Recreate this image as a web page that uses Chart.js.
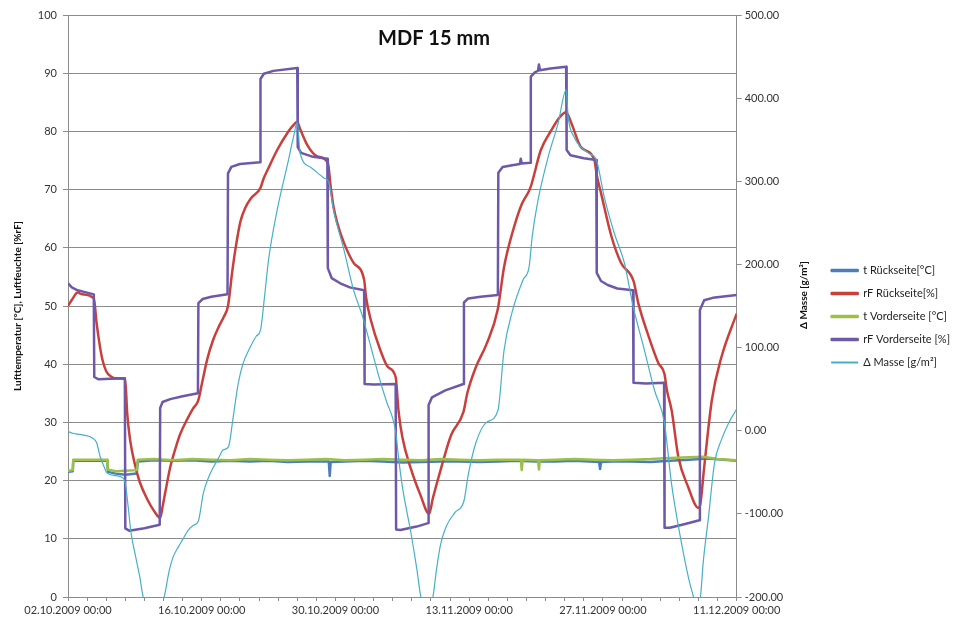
<!DOCTYPE html>
<html lang="de">
<head>
<meta charset="utf-8">
<title>MDF 15 mm</title>
<script src="https://cdn.jsdelivr.net/npm/chart.js@4.4.1/dist/chart.umd.min.js"></script>
<style>
  body { margin: 0; background: #fff; }
  #chart { display: block; }
</style>
</head>
<body>
<canvas id="chart" width="960" height="626"></canvas>
<script>
const titel = 'MDF 15 mm';
const startTag = [2009, 9, 2];
const serienNamen = ['t Rückseite[°C]', 'rF Rückseite[%]', 't Vorderseite [°C]', 'rF Vorderseite [%]', '\u0394 Masse [g/m\u00b2]'];

const tRueckseite = [[0,21.5],[0.5,21.6],[0.55,23.4],[4.1,23.4],[4.2,21.5],[5,21.2],[6,21.0],[7.2,21.2],[7.3,23.3],[9,23.5],[11,23.4],[13,23.5],[15,23.3],[17,23.4],[19,23.3],[21,23.4],[23,23.2],[25,23.3],[27.3,23.3],[27.4,20.8],[27.5,23.2],[29,23.3],[31,23.4],[33,23.3],[35,23.1],[37,23.2],[39,23.3],[41,23.3],[43,23.2],[45,23.3],[47,23.4],[49,23.3],[51,23.3],[53,23.4],[55.6,23.2],[55.7,22.0],[55.8,23.2],[57,23.3],[59,23.3],[61,23.2],[63,23.4],[65,23.6],[67,23.8],[70,23.4]];

const rfRueckseite = [[0,50.0],[0.5,51.3],[1.0,52.3],[1.5,52.0],[2.7,51.3],[3.0,47.0],[3.3,43.5],[3.6,40.8],[4.0,38.8],[4.5,37.9],[5.0,37.6],[5.98,37.5],[6.2,31.5],[6.5,27.0],[7.0,22.8],[7.5,19.8],[8.3,16.8],[9.0,14.8],[9.65,13.6],[9.9,15.5],[10.3,19.0],[10.7,22.3],[11.3,25.8],[11.75,28.0],[12.5,30.6],[13.1,32.4],[13.64,33.8],[14.0,36.5],[14.6,41.0],[15.2,44.2],[15.8,46.5],[16.3,48.1],[16.75,50.0],[17.2,56.0],[17.6,60.5],[18.05,64.5],[18.6,67.0],[19.1,68.4],[20.15,70.3],[20.5,72.0],[20.9,73.4],[21.9,76.8],[23.0,79.8],[23.5,80.9],[24.0,81.6],[24.3,80.4],[25.1,77.5],[26.1,75.7],[27.2,74.6],[27.5,70.5],[27.8,67.0],[28.2,64.2],[28.9,60.8],[29.9,57.4],[31.0,54.5],[31.2,51.5],[31.7,47.6],[32.7,42.4],[33.5,39.5],[34.3,37.8],[34.6,32.0],[35.0,27.5],[35.9,22.0],[36.9,17.5],[37.8,14.3],[38.2,17.0],[39.0,21.8],[40.1,27.8],[41.4,31.8],[41.8,35.0],[42.7,39.5],[43.8,43.4],[45.0,49.5],[45.65,56.7],[46.7,63.6],[47.5,67.5],[48.4,70.3],[49.5,76.8],[50.6,80.2],[51.5,82.5],[52.15,83.3],[52.7,81.4],[53.7,77.3],[55.1,75.1],[55.35,72.5],[55.8,69.4],[56.9,61.9],[57.9,57.4],[59.2,54.3],[59.7,50.5],[60.8,44.7],[61.8,40.2],[62.43,38.4],[62.7,35.5],[63.2,32.0],[63.9,24.0],[64.9,19.0],[66.0,15.3],[66.2,16.0],[66.6,22.3],[67.4,33.8],[68.4,41.2],[70,48.7]];

const tVorderseite = [[0,21.7],[0.5,21.8],[0.55,23.6],[4.1,23.6],[4.15,21.9],[5,21.6],[6,21.7],[7.2,21.8],[7.3,23.6],[9,23.7],[11,23.5],[13,23.7],[15,23.6],[17,23.5],[19,23.7],[21,23.6],[23,23.5],[25,23.6],[27,23.7],[29,23.5],[31,23.6],[33,23.7],[35,23.6],[37,23.5],[39,23.7],[41,23.6],[43,23.5],[45,23.6],[47.4,23.6],[47.5,21.8],[47.6,23.6],[49.2,23.5],[49.3,21.9],[49.4,23.5],[51,23.6],[53,23.7],[55,23.6],[57,23.5],[59,23.6],[61,23.7],[63,23.9],[65,24.0],[66.5,24.1],[68,23.7],[70,23.5]];

const rfVorderseite = [[0,53.9],[0.4,53.2],[1.0,52.7],[2.0,52.3],[2.7,52.0],[2.75,37.8],[3.2,37.4],[4.5,37.5],[5.95,37.6],[6.0,11.8],[6.4,11.4],[8.0,11.8],[9.6,12.4],[9.65,32.5],[9.9,33.5],[10.7,34.0],[12.0,34.5],[13.6,35.0],[13.65,50.5],[14.1,51.2],[15.0,51.6],[16.7,52.0],[16.75,72.8],[17.1,73.9],[18.0,74.4],[20.1,74.7],[20.15,89.0],[20.5,89.9],[21.5,90.4],[24.0,90.9],[24.05,77.3],[24.4,76.3],[25.5,75.7],[27.15,75.3],[27.2,56.5],[27.6,54.8],[28.5,53.9],[29.5,53.2],[31.0,52.7],[31.05,36.6],[32.0,36.5],[34.3,36.6],[34.35,11.6],[34.8,11.5],[36.5,12.1],[37.7,12.7],[37.75,33.0],[38.1,34.3],[39.5,35.5],[41.4,36.6],[41.45,50.6],[41.9,51.3],[43.2,51.6],[45.0,51.9],[45.05,72.9],[45.5,73.9],[46.5,74.2],[47.3,74.4],[47.4,75.3],[47.5,74.5],[48.4,74.6],[48.45,89.4],[48.9,90.2],[49.2,90.4],[49.3,91.5],[49.4,90.5],[50.5,90.8],[52.15,91.1],[52.2,76.8],[52.6,75.9],[54,75.4],[55.3,75.1],[55.35,55.7],[55.8,54.3],[56.5,53.6],[57.5,53.0],[59.15,52.7],[59.2,36.8],[60.5,36.7],[62.4,36.8],[62.45,11.9],[63,11.9],[64.5,12.5],[66.1,13.2],[66.15,49.3],[66.6,51.0],[67.5,51.4],[70,51.9]];

// Masseänderung in g/m² (rechte Achse)
const deltaMasse = [[0,-1],[0.5,-3],[1.0,-4],[1.5,-5],[2.6,-9],[3.0,-14.5],[3.36,-31],[3.8,-44],[4.1,-51],[5.0,-54],[5.77,-57],[6.0,-63],[6.3,-91.5],[6.6,-123],[7.0,-147],[7.5,-175],[7.87,-200],[8.5,-218],[9.0,-224],[9.5,-218],[10.07,-200],[10.6,-168],[11.0,-152],[11.54,-140],[12.0,-131],[12.59,-119.5],[13.1,-114],[13.64,-109],[14.17,-75],[14.7,-56.5],[15.22,-44],[15.8,-32],[16.26,-23],[16.79,-19.5],[17.3,17],[17.8,55.5],[18.3,80],[19.1,101],[19.7,113.6],[20.15,121],[20.6,164],[21.0,206],[21.9,265.5],[23.0,321.5],[23.6,353],[24.0,371],[24.3,334],[25.4,317],[26.8,304],[27.3,299],[27.8,265.5],[28.9,217],[29.9,169],[30.85,137],[31.7,101],[32.7,59],[33.3,36.6],[34.3,-1],[34.6,-32],[35.0,-67],[35.9,-123],[36.5,-165],[36.94,-200],[37.5,-220],[38.2,-200],[38.6,-165],[39.0,-137],[39.56,-116],[40.5,-98.5],[41.45,-84.5],[41.9,-53],[42.7,-14.5],[43.8,10],[45.0,24],[45.65,97],[46.5,143],[47.64,181.5],[48.27,197],[48.6,234],[49.2,277],[50.26,329],[51.31,370],[52.15,410],[52.36,377.5],[52.99,353],[54.46,334],[55.3,326],[56.14,281],[57.19,237.5],[58.24,202],[59.18,148.6],[60.34,97],[61.39,49],[62.43,10],[63.17,-63],[64.22,-135],[65.0,-179],[65.48,-200],[65.8,-215],[66.21,-200],[66.5,-158],[67.05,-104],[67.68,-39],[68.4,-11],[69.15,9],[70,26]];

const farben = ['#4a7ebb', '#c8403c', '#9cc046', '#6e58a8', '#45b0c8'];

Chart.defaults.font.family = 'Lato, "Open Sans", sans-serif';
Chart.defaults.font.size = 11;
Chart.defaults.color = '#333';

function zweistellig(n) { return n < 10 ? '0' + n : '' + n; }
function datumText(tage) {
    const d = new Date(startTag[0], startTag[1], startTag[2] + tage);
    return zweistellig(d.getDate()) + '.' + zweistellig(d.getMonth() + 1) + '.' + d.getFullYear() + ' 00:00';
}
const punkte = reihe => reihe.map(p => ({ x: p[0], y: p[1] }));

// Titel und rechter Achsentitel werden selbst gezeichnet (Excel-Stil)
const textPlugin = {
    id: 'texte',
    afterDraw(chart) {
        const { ctx, chartArea } = chart;
        const rechts = chart.scales.y1;
        ctx.save();
        ctx.fillStyle = '#111';
        ctx.textAlign = 'center';
        ctx.textBaseline = 'middle';
        ctx.font = 'bold 20px Lato, sans-serif';
        ctx.fillText(titel, 434, chartArea.top + 24);
        ctx.translate(rechts.left + 67, chartArea.top + 280);
        ctx.rotate(-Math.PI / 2);
        ctx.font = 'bold 10px Lato, sans-serif';
        ctx.fillText(serienNamen[4], 0, 0);
        ctx.restore();
    }
};

function linie(i, daten, achse, breite, ordnung, glatt) {
    return {
        label: serienNamen[i],
        data: punkte(daten),
        yAxisID: achse,
        borderColor: farben[i],
        backgroundColor: farben[i],
        borderWidth: breite,
        borderJoinStyle: 'round',
        pointRadius: 0,
        fill: false,
        order: ordnung,
        cubicInterpolationMode: glatt ? 'monotone' : 'default',
        tension: 0
    };
}

new Chart(document.getElementById('chart'), {
    type: 'line',
    data: {
        datasets: [
            linie(0, tRueckseite, 'y', 2.5, 5, false),
            linie(1, rfRueckseite, 'y', 2.5, 4, true),
            linie(2, tVorderseite, 'y', 2.5, 3, false),
            linie(3, rfVorderseite, 'y', 2.5, 2, false),
            linie(4, deltaMasse, 'y1', 1.2, 1, true)
        ]
    },
    options: {
        responsive: false,
        animation: false,
        devicePixelRatio: 1,
        layout: { padding: { top: 15, right: 0, bottom: 8, left: 0 } },
        plugins: {
            legend: {
                position: 'right',
                reverse: true,
                labels: { boxWidth: 26, boxHeight: 1, padding: 12, color: '#222' }
            },
            tooltip: { enabled: false }
        },
        scales: {
            x: {
                type: 'linear',
                min: 0,
                max: 70,
                afterFit: s => { s.height = 21; },
                ticks: {
                    stepSize: 2,
                    autoSkip: false,
                    maxRotation: 0,
                    minRotation: 0,
                    padding: 3,
                    color: '#333',
                    callback: v => (v % 14 === 0 ? datumText(v) : '')
                },
                grid: { drawOnChartArea: false, tickLength: 4, color: '#8c8c8c' },
                border: { color: '#8c8c8c' }
            },
            y: {
                position: 'left',
                min: 0,
                max: 100,
                afterFit: s => { s.width = 68; },
                ticks: { stepSize: 10, padding: 6, color: '#333' },
                grid: { color: '#8c8c8c', tickLength: 5 },
                border: { color: '#8c8c8c' },
                title: {
                    display: true,
                    text: 'Lufttemperatur [°C], Luftfeuchte [%rF]',
                    font: { size: 10, weight: 'bold' },
                    color: '#111',
                    padding: { top: 12, bottom: 0 }
                }
            },
            y1: {
                position: 'right',
                min: -200,
                max: 500,
                afterFit: s => { s.width = 83; },
                ticks: { stepSize: 100, padding: 3, color: '#333', callback: v => v.toFixed(2) },
                grid: { drawOnChartArea: false, tickLength: 5, color: '#8c8c8c' },
                border: { color: '#8c8c8c' }
            }
        }
    },
    plugins: [textPlugin]
});
</script>
</body>
</html>
